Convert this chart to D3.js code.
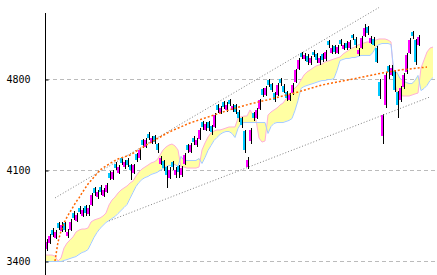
<!DOCTYPE html>
<html>
<head>
<meta charset="utf-8">
<script src="https://cdn.jsdelivr.net/npm/d3@7"></script>
<style>
  body { margin: 0; background: #fff; }
  svg { display: block; }
  .tick text { font-family: "DejaVu Sans Mono", monospace; font-size: 10px; fill: #000; }
</style>
</head>
<body>
<script>
// candle data, one per period
const open = [3490,3540,3640,3580,3690,3630,3690,3590,3640,3770, 3710,3810,3745,3820,3760,3830,3960,3890,3970,3900,
  3930,4080,4030,4150,4080,4190,4120,4180,4140,4080, 4220,4190,4330,4280,4380,4310,4360,4300,4150,4170,
  4120,4040,4160,4060,4130,4060,4150,4290,4240,4350, 4290,4340,4470,4410,4470,4440,4430,4600,4540,4620,
  4560,4640,4560,4600,4550,4500,4400,4120,4320,4540, 4500,4570,4720,4680,4790,4760,4690,4680,4800,4750,
  4700,4640,4690,4780,4880,5000,4950,4980,4920,5010, 4990,4920,4990,4950,5090,5000,5050,5000,5100,5030,
  5080,5040,5140,5110,4990,5040,5130,5200,5080,5110, 5040,4780,4360,4600,4900,4830,4860,4700,4640,4740,
  4850,5000,5160,5100,5060];
const high = [3570,3610,3655,3640,3700,3700,3700,3650,3720,3785, 3770,3820,3810,3830,3830,3925,3970,3950,3985,3965,
  4000,4095,4100,4165,4140,4200,4180,4190,4150,4150, 4230,4270,4340,4345,4390,4365,4370,4310,4210,4180,
  4130,4120,4170,4120,4140,4130,4230,4300,4310,4360, 4350,4420,4480,4470,4480,4450,4540,4610,4595,4630,
  4620,4650,4610,4610,4560,4510,4410,4200,4420,4550, 4580,4650,4730,4745,4800,4770,4700,4770,4810,4760,
  4710,4690,4770,4880,4960,5010,5000,4990,4975,5020, 5000,4975,5000,5020,5100,5060,5060,5060,5110,5080,
  5090,5100,5150,5120,5040,5130,5220,5210,5130,5120, 5050,4800,4530,4850,4910,4910,4870,4710,4750,4845,
  5000,5115,5170,5110,5140];
const low = [3480,3530,3585,3570,3640,3620,3620,3580,3630,3715, 3700,3760,3735,3750,3750,3820,3900,3880,3910,3890,
  3920,4020,4020,4100,4070,4140,4110,4120,4020,4070, 4160,4180,4270,4270,4330,4300,4300,4230,4140,4090,
  3960,4030,4100,4040,4040,4050,4140,4230,4230,4290, 4280,4330,4410,4400,4400,4370,4420,4540,4530,4570,
  4550,4590,4550,4530,4470,4420,4230,4110,4300,4480, 4490,4560,4660,4670,4740,4700,4620,4670,4750,4690,
  4630,4630,4680,4770,4870,4950,4940,4910,4910,4970, 4920,4910,4930,4940,5040,4990,4990,4990,5050,5020,
  5020,5030,5100,5040,4980,5030,5120,5140,5070,5050, 4920,4650,4300,4580,4800,4820,4700,4500,4620,4720,
  4840,4990,5110,4910,5050];
const close = [3546,3592,3600,3623,3654,3677,3638,3623,3700,3731, 3754,3777,3792,3769,3808,3908,3923,3931,3931,3946,
  3985,4038,4085,4115,4123,4154,4162,4138,4100,4138, 4177,4254,4292,4331,4346,4346,4315,4254,4192,4115,
  4062,4100,4123,4100,4085,4115,4215,4254,4292,4315, 4331,4408,4431,4454,4423,4392,4523,4562,4577,4585,
  4600,4608,4592,4546,4500,4446,4254,4177,4408,4500, 4562,4638,4677,4731,4754,4715,4638,4754,4769,4700,
  4654,4677,4754,4869,4946,4969,4985,4931,4962,4985, 4946,4962,4946,5008,5062,5038,5008,5046,5069,5062,
  5038,5085,5115,5062,5023,5115,5192,5154,5115,5062, 4930,4670,4520,4831,4854,4885,4715,4600,4731,4831,
  4985,5100,5131,4930,5120];

// cloud spans (run a few periods past the last candle)
const spanA = [3446,3446,3446,3438,3400,3423,3500,3538,3562,3585, 3623,3638,3646,3646,3654,3700,3715,3723,3731,3746,
  3769,3831,3869,3892,3923,3946,3962,3977,4000,4015, 4054,4085,4108,4123,4138,4154,4162,4177,4215,4254,
  4277,4292,4300,4285,4254,4123,4123,4115,4115,4115, 4115,4123,4254,4308,4354,4385,4400,4408,4408,4415,
  4423,4431,4431,4431,4500,4508,4515,4515,4562,4523, 4485,4346,4315,4323,4523,4546,4562,4577,4600,4615,
  4646,4677,4708,4731,4754,4792,4831,4854,4869,4885, 4900,4908,4915,4931,4938,4946,4954,4962,4969,4992,
  5008,5023,5038,5046,5062,5069,5077,5085,5085,5092, 5100,5108,5108,5108,5100,5085,4792,4700,4677,4669,
  4669,4669,4677,4685,4692,4885,4946,5008,5038,5046];
const spanB = [3400,3400,3400,3400,3400,3400,3408,3415,3423,3431, 3438,3454,3469,3477,3492,3538,3585,3623,3654,3677,
  3700,3715,3731,3746,3769,3792,3815,3838,3885,3931, 3977,4008,4031,4046,4054,4069,4077,4085,4100,4115,
  4131,4138,4138,4146,4131,4208,4177,4177,4177,4177, 4177,4192,4154,4200,4254,4292,4331,4354,4377,4392,
  4400,4400,4385,4354,4423,4462,4469,4469,4469,4469, 4469,4469,4469,4469,4385,4438,4462,4469,4469,4469,
  4477,4485,4500,4562,4638,4731,4746,4754,4762,4769, 4777,4785,4792,4792,4800,4800,4808,4869,4946,4954,
  4962,4962,4969,4969,4977,4985,4985,4985,4985,5008, 5054,5069,5077,5077,5077,5069,4854,4854,4808,4792,
  4777,4769,4769,4792,4831,4715,4731,4754,4792,4815];

// moving average, read at these periods
const maIdx = [3,4,5,6,7,8,9,10,11,12,14,16,18,21,24,28,34,41,48,55,61,68,75,84,92,104,112,118,124,127];
const maVal = [3400,3546,3631,3692,3738,3777,3815,3854,3885,3923,3992,4046,4100,4146,4185,4215,4300,4392,4462,4515,4562,4608,4646,4700,4754,4808,4846,4869,4885,4892];

// channel lines [period, value]
const channelUpper = [[3, 3885], [111, 5350]];
const channelLower = [[21, 3708], [128, 4662]];

const yTicks = [3400, 4100, 4800];

const w = 437;
const h = 275;
const axisX = 45;

const x = d3.scaleLinear().domain([0, close.length - 1]).range([46, 418]);
const y = d3.scaleLinear().domain([3400, 4800]).range([261, 79]);

const svg = d3.select('body').append('svg')
  .attr('width', w)
  .attr('height', h);

// grid
svg.append('g').selectAll('line')
  .data(yTicks)
  .enter().append('line')
  .attr('x1', axisX + 1).attr('x2', w)
  .attr('y1', d => Math.round(y(d)) + 0.5).attr('y2', d => Math.round(y(d)) + 0.5)
  .attr('stroke', '#bbb')
  .attr('stroke-dasharray', '4,3');

// cloud
const cloud = spanA.map((a, i) => ({ i: i, a: a, b: spanB[i] }));
svg.append('path')
  .datum(cloud)
  .attr('fill', '#ffffa3')
  .attr('d', d3.area().x(d => x(d.i)).y0(d => y(d.a)).y1(d => y(d.b)));
svg.append('path')
  .datum(cloud)
  .attr('fill', 'none')
  .attr('stroke', '#ffb0d8')
  .attr('d', d3.line().x(d => x(d.i)).y(d => y(d.a)));
svg.append('path')
  .datum(cloud)
  .attr('fill', 'none')
  .attr('stroke', '#a6ccff')
  .attr('d', d3.line().x(d => x(d.i)).y(d => y(d.b) + 0.5));

// candles
const candles = close.map((c, i) => ({ i: i, o: open[i], h: high[i], l: low[i], c: c }));
const cg = svg.append('g').attr('shape-rendering', 'crispEdges');
cg.selectAll('rect.wick')
  .data(candles)
  .enter().append('rect')
  .attr('class', 'wick')
  .attr('x', d => Math.round(x(d.i)) + 1)
  .attr('width', 1)
  .attr('y', d => Math.round(y(d.h)))
  .attr('height', d => Math.max(1, Math.round(y(d.l)) - Math.round(y(d.h))))
  .attr('fill', '#000');
cg.selectAll('rect.body')
  .data(candles)
  .enter().append('rect')
  .attr('class', 'body')
  .attr('x', d => Math.round(x(d.i)) - 1)
  .attr('width', 2)
  .attr('y', d => Math.round(y(Math.max(d.o, d.c))))
  .attr('height', d => Math.max(1, Math.round(y(Math.min(d.o, d.c))) - Math.round(y(Math.max(d.o, d.c)))))
  .attr('fill', d => d.c >= d.o ? '#ff00ff' : '#00c8ff');

// channel
[channelUpper, channelLower].forEach(function(seg) {
  svg.append('path')
    .datum(seg)
    .attr('fill', 'none')
    .attr('stroke', '#808080')
    .attr('stroke-dasharray', '1,2')
    .attr('d', d3.line().x(d => x(d[0])).y(d => y(d[1])));
});

// moving average
svg.append('path')
  .datum(maIdx.map((d, k) => [d, maVal[k]]))
  .attr('fill', 'none')
  .attr('stroke', '#ff6600')
  .attr('stroke-width', 1.5)
  .attr('stroke-dasharray', '2,2')
  .attr('d', d3.line().x(d => x(d[0])).y(d => y(d[1])));

// y axis
const yAxis = d3.axisLeft(y).tickValues(yTicks).tickFormat(d3.format('d'))
  .tickSizeInner(-3).tickSizeOuter(0).tickPadding(15);
const ag = svg.append('g')
  .attr('transform', 'translate(' + (axisX + 0.5) + ',0.5)')
  .call(yAxis);
ag.select('.domain').remove();
ag.selectAll('.tick line').attr('stroke', '#000');
svg.append('line')
  .attr('x1', axisX + 0.5).attr('x2', axisX + 0.5)
  .attr('y1', 13).attr('y2', h)
  .attr('stroke', '#000');
</script>
</body>
</html>
